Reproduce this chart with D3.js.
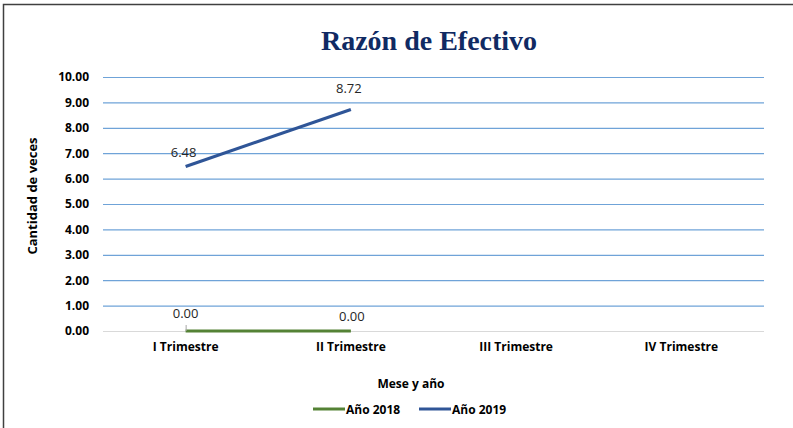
<!DOCTYPE html>
<html lang="es">
<head>
    <meta charset="UTF-8">
    <title>Razón de Efectivo</title>
    <script src="https://d3js.org/d3.v7.min.js"></script>
    <style>
        * { margin: 0; padding: 0; }
        body { background: #fff; }
        svg { font-family: "Open Sans", "Noto Sans", sans-serif; }
    </style>
</head>
<body>
<script>
    var categories = ["I Trimestre", "II Trimestre", "III Trimestre", "IV Trimestre"];
    var yTicks = [0, 1, 2, 3, 4, 5, 6, 7, 8, 9, 10];
    var seriesNames = ["Año 2018", "Año 2019"];
    var values2018 = [0.00, 0.00];
    var values2019 = [6.48, 8.72];
    var seriesColors = ["#548235", "#2f5597"];

    var W = 793, H = 428;
    var plotLeft = 103, plotRight = 764, plotTop = 77, plotBottom = 331;

    var svg = d3.select("body").append("svg")
        .attr("width", W).attr("height", H);

    // marco
    svg.append("path")
        .attr("d", "M3.5," + H + " V4.5 H" + W)
        .attr("fill", "none").attr("stroke", "#404040").attr("stroke-width", 1.5);

    var x = d3.scaleBand().domain(categories).range([plotLeft, plotRight]);
    var y = d3.scaleLinear().domain([0, 10]).range([plotBottom, plotTop]);

    // rejilla
    svg.selectAll(".grid")
        .data(yTicks.filter(function (d) { return d > 0; }))
        .enter().append("line")
        .attr("x1", plotLeft).attr("x2", plotRight)
        .attr("y1", function (d) { return y(d) + 0.5; })
        .attr("y2", function (d) { return y(d) + 0.5; })
        .attr("stroke", "#6fa3d8").attr("stroke-width", 1.2);

    svg.append("line")
        .attr("x1", plotLeft).attr("x2", plotRight)
        .attr("y1", y(0) + 0.5).attr("y2", y(0) + 0.5)
        .attr("stroke", "#d9d9d9").attr("stroke-width", 1);

    // eje y
    var yAxis = svg.append("g")
        .attr("transform", "translate(" + (plotLeft - 10) + ",0)")
        .call(d3.axisLeft(y).tickValues(yTicks).tickFormat(d3.format(".2f")).tickSize(0));
    yAxis.attr("font-family", null).attr("font-size", null);
    yAxis.select(".domain").remove();
    yAxis.selectAll("text")
        .attr("font-size", 12).attr("font-weight", "bold").attr("fill", "#000")
        .attr("dx", -1);

    // eje x
    var xAxis = svg.append("g")
        .attr("transform", "translate(0," + plotBottom + ")")
        .call(d3.axisBottom(x).tickSize(0));
    xAxis.attr("font-family", null).attr("font-size", null);
    xAxis.select(".domain").remove();
    xAxis.selectAll("text")
        .attr("font-size", 12).attr("font-weight", "bold").attr("fill", "#000")
        .attr("dy", 17);

    // titulo
    svg.append("text")
        .attr("x", 429).attr("y", 50)
        .attr("text-anchor", "middle")
        .style("font-family", "'Liberation Serif', 'DejaVu Serif', serif")
        .attr("font-size", 28).attr("font-weight", "bold")
        .attr("fill", "#102a63")
        .text("Razón de Efectivo");

    svg.append("text")
        .attr("transform", "translate(37," + 196 + ") rotate(-90)")
        .attr("text-anchor", "middle")
        .attr("font-size", 13).attr("font-weight", "bold")
        .text("Cantidad de veces");

    svg.append("text")
        .attr("x", 411).attr("y", 388)
        .attr("text-anchor", "middle")
        .attr("font-size", 12).attr("font-weight", "bold")
        .text("Mese y año");

    // lineas
    var line = d3.line()
        .x(function (d, i) { return x(categories[i]) + x.bandwidth() / 2; })
        .y(function (d) { return y(d); });

    var series = [values2018, values2019];
    svg.selectAll(".serie")
        .data(series)
        .enter().append("path")
        .attr("d", line)
        .attr("fill", "none")
        .attr("stroke", function (d, i) { return seriesColors[i]; })
        .attr("stroke-width", 3.2);

    // marca de etiqueta
    svg.append("line")
        .attr("x1", x(categories[0]) + x.bandwidth() / 2 + 0.5)
        .attr("x2", x(categories[0]) + x.bandwidth() / 2 + 0.5)
        .attr("y1", y(0) - 6).attr("y2", y(0))
        .attr("stroke", "#a6a6a6");

    // etiquetas de datos
    var labelOffsets2019 = [[-2, -9], [-2, -17]];
    var labelOffsets2018 = [[0, -13], [1, -10]];
    svg.selectAll(".lbl19")
        .data(values2019)
        .enter().append("text")
        .attr("x", function (d, i) { return x(categories[i]) + x.bandwidth() / 2 + labelOffsets2019[i][0]; })
        .attr("y", function (d, i) { return y(d) + labelOffsets2019[i][1]; })
        .attr("text-anchor", "middle")
        .attr("font-size", 13).attr("fill", "#262626")
        .text(function (d) { return d3.format(".2f")(d); });
    svg.selectAll(".lbl18")
        .data(values2018)
        .enter().append("text")
        .attr("x", function (d, i) { return x(categories[i]) + x.bandwidth() / 2 + labelOffsets2018[i][0]; })
        .attr("y", function (d, i) { return y(d) + labelOffsets2018[i][1]; })
        .attr("text-anchor", "middle")
        .attr("font-size", 13).attr("fill", "#262626")
        .text(function (d) { return d3.format(".2f")(d); });

    // leyenda
    var legendX = [313, 419];
    var legend = svg.selectAll(".leg")
        .data(seriesNames)
        .enter().append("g")
        .attr("transform", function (d, i) { return "translate(" + legendX[i] + ",409)"; });
    legend.append("line")
        .attr("x1", 0).attr("x2", 32)
        .attr("stroke", function (d, i) { return seriesColors[i]; })
        .attr("stroke-width", 3);
    legend.append("text")
        .attr("x", 33).attr("y", 4.5)
        .attr("font-size", 12).attr("font-weight", "bold")
        .text(function (d) { return d; });
</script>
</body>
</html>
